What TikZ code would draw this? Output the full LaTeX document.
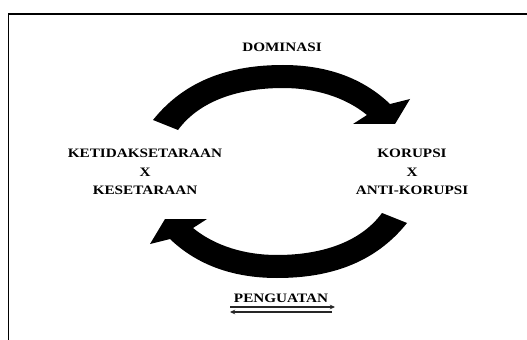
\documentclass[tikz,border=0pt]{standalone}
\usepackage{fontspec}
\setmainfont{Liberation Serif}[FakeStretch=1.18]
\usetikzlibrary{arrows.meta}

\begin{document}
\begin{tikzpicture}[x=0.03cm, y=-0.03cm,
    lbl/.style={font=\fontsize{11}{15.8}\selectfont\bfseries, align=center, text=black, inner sep=0pt},
    bigarrow/.style={fill=black, draw=none},
    flow/.style={-{Stealth[length=4.5pt,width=4pt]}, line width=1pt, color=black!85}
]
\useasboundingbox (0,0) rectangle (527,340);
\clip (0,0) rectangle (527,340);

% Frame
\draw[line width=1.7pt] (8.5,345) -- (8.5,14) -- (535,14);

% Cycle arrows (bottom one is the top one turned half round)
\foreach \rot in {0,180} {
  \fill[bigarrow, rotate around={\rot:(280,171.5)}]
    (153,120) .. controls (185,80) and (230,65) .. (283,65)
    .. controls (330,65) and (365,80) .. (390,104)
    -- (410,99) -- (395,124) -- (353,124) -- (367,115)
    .. controls (345,97) and (315,88) .. (283,88)
    .. controls (240,88) and (200,100) .. (178,130) -- cycle;
}

% Labels
\node[lbl] (dominasi) at (282,47) {DOMINASI};
\node[lbl] (kesetaraan) at (145,172) {KETIDAKSETARAAN\\X\\KESETARAAN};
\node[lbl] (korupsi) at (412,172) {KORUPSI\\X\\ANTI-KORUPSI};
\node[lbl] (penguatan) at (281,298) {PENGUATAN};

% Two-way arrows
\coordinate (pg-a) at (230,307);
\coordinate (pg-b) at (335,307);
\coordinate (pg-c) at (332,312);
\coordinate (pg-d) at (230,312);
\draw[flow] (pg-a) -- (pg-b);
\draw[flow] (pg-c) -- (pg-d);

\end{tikzpicture}
\end{document}
